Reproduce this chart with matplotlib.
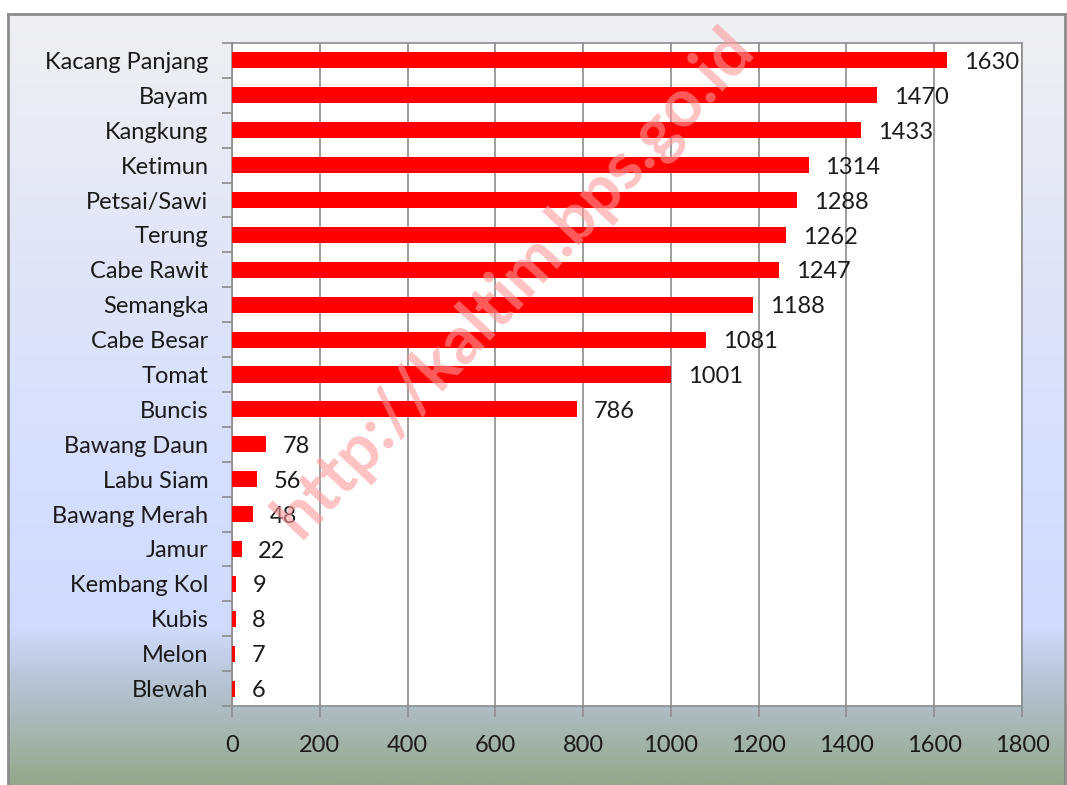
import numpy as np
import matplotlib
matplotlib.use("Agg")
import matplotlib.pyplot as plt
from matplotlib.colors import LinearSegmentedColormap

# data
komoditas = ["Kacang Panjang", "Bayam", "Kangkung", "Ketimun", "Petsai/Sawi",
             "Terung", "Cabe Rawit", "Semangka", "Cabe Besar", "Tomat", "Buncis",
             "Bawang Daun", "Labu Siam", "Bawang Merah", "Jamur", "Kembang Kol",
             "Kubis", "Melon", "Blewah"]
nilai = [1630, 1470, 1433, 1314, 1288, 1262, 1247, 1188, 1081, 1001, 786,
         78, 56, 48, 22, 9, 8, 7, 6]
xticks = [0, 200, 400, 600, 800, 1000, 1200, 1400, 1600, 1800]

plt.rcParams['font.family'] = ['Lato', 'DejaVu Sans']

fig = plt.figure(figsize=(10.67, 7.85), dpi=100)

# background frame with gradient
bg = fig.add_axes([8/1067, 0, 1057/1067, 771/785])
stops = [(0.0, (240, 240, 242)), (0.35, (224, 228, 248)), (0.62, (212, 222, 255)),
         (0.80, (208, 218, 252)), (0.87, (182, 196, 212)), (1.0, (148, 168, 140))]
cmap = LinearSegmentedColormap.from_list(
    "bg", [(p, tuple(c / 255 for c in rgb)) for p, rgb in stops])
grad = np.linspace(0, 1, 400).reshape(-1, 1)
bg.imshow(grad, aspect="auto", cmap=cmap, extent=[0, 1, 1, 0])
bg.set_xticks([])
bg.set_yticks([])
for s in ["left", "top", "right"]:
    bg.spines[s].set_color("#8c8c8c")
    bg.spines[s].set_linewidth(2)
bg.spines["bottom"].set_visible(False)

ax = fig.add_axes([232/1067, 1 - 706/785, 790/1067, 663/785])
ax.set_facecolor("white")
y = np.arange(len(komoditas))
ax.barh(y, nilai, height=0.46, color="#ff0000", zorder=3)
for yi, v in zip(y, nilai):
    ax.text(v + 38, yi + 0.06, str(v), va="center", ha="left",
            fontsize=17, color="#1a1a1a", zorder=4)

ax.set_xlim(0, 1800)
ax.set_ylim(len(komoditas) - 0.5, -0.5)
ax.set_xticks(xticks)
ax.set_xticklabels([str(t) for t in xticks], fontsize=17, color="#1a1a1a")
ax.set_yticks(y)
ax.set_yticklabels(komoditas, fontsize=17, color="#1a1a1a")
ax.set_yticks(np.arange(-0.5, len(komoditas), 1), minor=True)
ax.tick_params(axis="y", which="major", length=0, pad=17)
ax.tick_params(axis="y", which="minor", length=7, color="#8c8c8c", width=1.2)
ax.tick_params(axis="x", length=8, color="#8c8c8c", width=1.2, pad=13)
ax.xaxis.grid(True, color="#8c8c8c", linewidth=1.2, zorder=0)
for s in ax.spines.values():
    s.set_color("#8c8c8c")
    s.set_linewidth(1.2)

fig.text(515/1067, 1 - 283/785, "http://kaltim.bps.go.id", rotation=47,
         ha="center", va="center", fontsize=48, fontweight="bold",
         color="#ff9999", alpha=0.6, zorder=10)

fig.savefig("out.png", dpi=100)
